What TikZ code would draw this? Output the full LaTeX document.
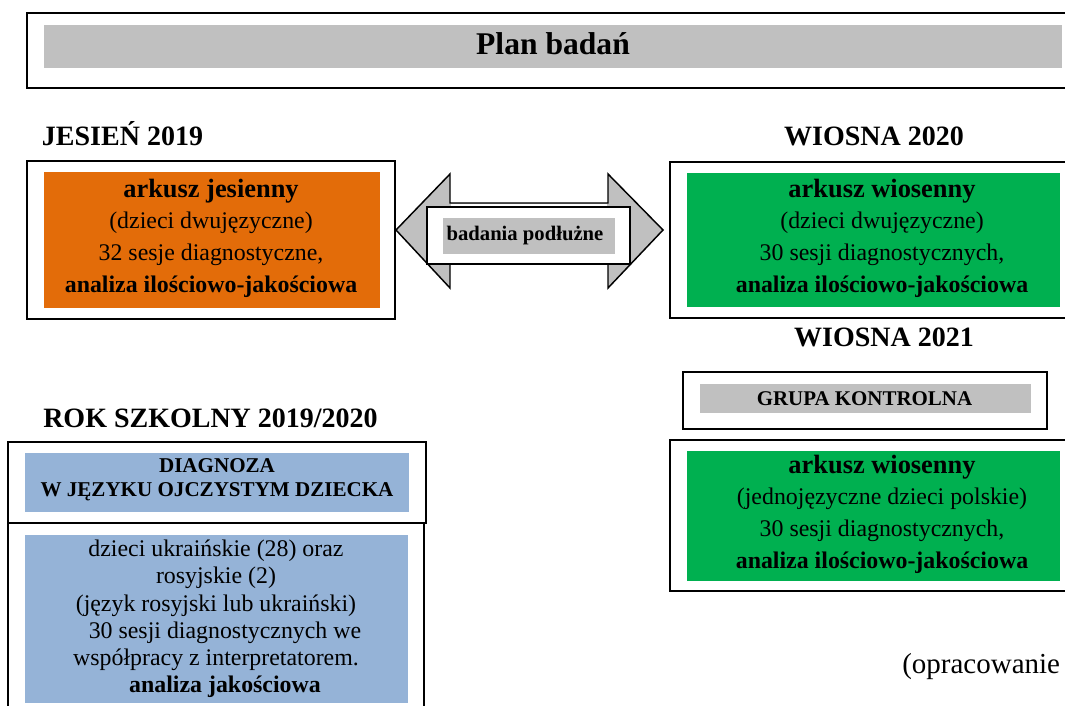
\documentclass[tikz,border=0pt]{standalone}
\usepackage{fontspec}
\setmainfont{Liberation Serif}
\definecolor{orng}{HTML}{E36C09}
\definecolor{grn}{HTML}{00B050}
\definecolor{blu}{HTML}{95B3D7}
\definecolor{gry}{HTML}{C0C0C0}
\tikzset{
  sz/.style 2 args={minimum width=#1*0.75pt, minimum height=#2*0.75pt},
  boxframe/.style={draw=black, line width=1.2pt, fill=white, inner sep=0pt, outer sep=0pt},
  fillpanel/.style={fill=#1, draw=none, inner sep=0pt, outer sep=0pt},
  headtxt/.style={font=\fontsize{21}{25}\selectfont\bfseries, inner sep=0pt, anchor=base},
  bodytxt/.style={font=\fontsize{17.9}{23.75}\selectfont, align=center, inner sep=0pt},
  smallcaps/.style={font=\fontsize{15.8}{18}\selectfont\bfseries, align=center, inner sep=0pt},
  arrowshape/.style={draw=black, line width=1.1pt, fill=gry, line join=miter},
}
\newcommand{\bigline}[1]{{\fontsize{19.8}{23.75}\selectfont\bfseries #1}}
\begin{document}
\begin{tikzpicture}[x=0.75pt,y=-0.75pt]
\clip (0,0) rectangle (1065,706);
\fill[white] (0,0) rectangle (1065,706);

% title
\node[boxframe, sz={1053}{75}, line width=1.6pt] (titleframe) at (553.5,50.5) {};
\node[fillpanel=gry, sz={1018}{43}] (titlepanel) at (553,46.5) {};
\node[inner sep=0pt, anchor=base, font=\fontsize{23.7}{28}\selectfont\bfseries] (title) at (553,55) {Plan badań};

% headings
\node[headtxt] (hj19) at (122.5,146) {JESIEŃ 2019};
\node[headtxt] (hw20) at (874,146) {WIOSNA 2020};
\node[headtxt] (hw21) at (884,347) {WIOSNA 2021};
\node[headtxt] (hrok) at (210.5,427) {ROK SZKOLNY 2019/2020};

% autumn box
\node[boxframe, sz={368}{158}] (autframe) at (211,240) {};
\node[fillpanel=orng, sz={336}{136}] (autpanel) at (212,240) {};
\node[bodytxt] (auttext) at (211,238) {\bigline{arkusz jesienny}\\(dzieci dwujęzyczne)\\32 sesje diagnostyczne,\\\textbf{analiza ilościowo-jakościowa}};

% spring 2020 box
\node[boxframe, sz={410}{156}] (sprframe) at (875,240) {};
\node[fillpanel=grn, sz={373}{134}] (sprpanel) at (873.5,240) {};
\node[bodytxt] (sprtext) at (882,238) {\bigline{arkusz wiosenny}\\(dzieci dwujęzyczne)\\30 sesji diagnostycznych,\\\textbf{analiza ilościowo-jakościowa}};

% double arrow
\coordinate (tipL) at (396,230);
\coordinate (tipR) at (663,230);
\draw[arrowshape] (tipL) -- (450,174) -- (450,203) -- (608,203) -- (608,174) -- (tipR) -- (608,288) -- (608,257) -- (450,257) -- (450,288) -- cycle;
\fill[white] (451,204) rectangle (607,256);
\node[boxframe, sz={203}{57}] (arrbox) at (528.5,235.5) {};
\node[fillpanel=gry, sz={172}{36}] (arrpanel) at (529,236) {};
\node[inner sep=0pt, anchor=base, font=\fontsize{15.5}{18}\selectfont\bfseries] (arrtext) at (525,241) {badania podłużne};

% control group
\node[boxframe, sz={364}{57}] (ctrlframe) at (865,400.5) {};
\node[fillpanel=gry, sz={331}{29}] (ctrlpanel) at (865.5,398.5) {};
\node[inner sep=0pt, anchor=base, font=\fontsize{15.7}{18}\selectfont\bfseries] (ctrltext) at (864.5,405) {GRUPA KONTROLNA};

\node[boxframe, sz={410}{151}] (sp2frame) at (875,515.5) {};
\node[fillpanel=grn, sz={373}{130}] (sp2panel) at (873.5,516) {};
\node[bodytxt] (sp2text) at (882,514) {\bigline{arkusz wiosenny}\\(jednojęzyczne dzieci polskie)\\30 sesji diagnostycznych,\\\textbf{analiza ilościowo-jakościowa}};

% school year
\node[boxframe, sz={418}{81}] (diagframe) at (217,482.5) {};
\node[fillpanel=blu, sz={384}{59}] (diagpanel) at (217,482.5) {};
\node[smallcaps] (diagtext) at (217,480) {DIAGNOZA\\W JĘZYKU OJCZYSTYM DZIECKA};

\node[boxframe, sz={416}{197}] (ukrframe) at (216,621.5) {};
\node[fillpanel=blu, sz={383}{168}] (ukrpanel) at (216.5,619) {};
\node[bodytxt, font=\fontsize{17.9}{20.4}\selectfont] (ukrtext) at (216,619) {dzieci ukraińskie (28) oraz\\rosyjskie (2)\\(język rosyjski lub ukraiński)\\\hspace*{13.5pt}30 sesji diagnostycznych we\\współpracy z interpretatorem.\\\hspace*{13.5pt}\textbf{analiza jakościowa}};

% source note
\node[inner sep=0pt, anchor=base west, font=\fontsize{21.75}{26}\selectfont] (note) at (902,673) {(opracowanie};
\end{tikzpicture}
\end{document}
